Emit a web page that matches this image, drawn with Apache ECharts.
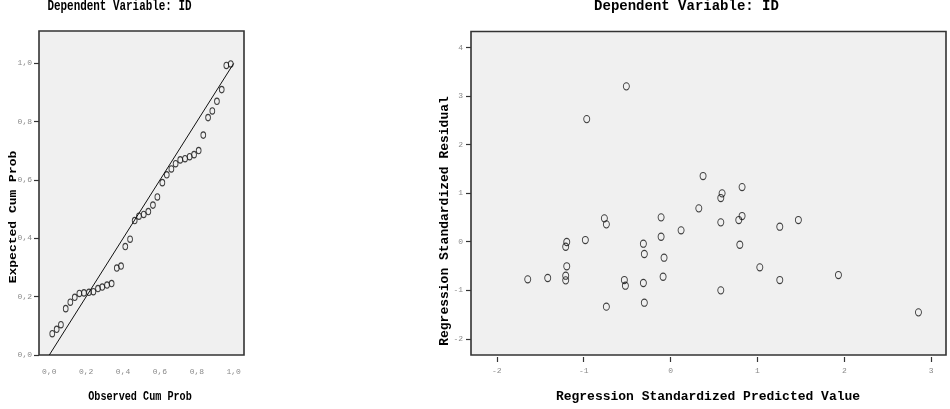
<!DOCTYPE html>
<html>
<head>
<meta charset="utf-8">
<script src="https://cdn.jsdelivr.net/npm/echarts@6/dist/echarts.min.js"></script>
<style>html,body{margin:0;padding:0;background:#fff}#c{width:950px;height:409px}</style>
</head>
<body>
<div id="c"></div>
<script>
// P-P plot data (observed vs expected cumulative probability)
const ppObserved = [0.016,0.040,0.063,0.089,0.114,0.138,0.163,0.188,0.215,0.239,0.264,0.287,0.313,0.338,0.366,0.389,0.412,0.438,0.463,0.486,0.512,0.537,0.562,0.586,0.613,0.637,0.662,0.685,0.710,0.736,0.761,0.785,0.810,0.835,0.861,0.884,0.909,0.935,0.960,0.984];
const ppExpected = [0.073,0.088,0.104,0.159,0.181,0.198,0.211,0.213,0.215,0.217,0.228,0.233,0.240,0.245,0.298,0.305,0.372,0.397,0.461,0.476,0.482,0.492,0.514,0.542,0.591,0.618,0.638,0.656,0.669,0.673,0.680,0.687,0.701,0.754,0.814,0.837,0.870,0.910,0.993,0.998];
const refLineX = [0, 1];
const refLineY = [0, 1];
// Scatter data (standardized predicted vs standardized residual)
const predicted = [-1.644,-1.414,-1.207,-1.207,-1.195,-1.207,-1.195,-0.981,-0.762,-0.739,-0.739,-0.532,-0.520,-0.313,-0.302,-0.313,-0.302,-0.109,-0.109,-0.075,-0.086,0.121,0.325,0.578,0.578,0.578,0.374,0.593,0.823,0.785,0.823,0.797,1.257,1.471,1.027,1.257,1.932,2.853,-0.509,-0.965];
const residual = [-0.774,-0.747,-0.795,-0.700,-0.506,-0.103,-0.006,0.035,0.482,0.358,-1.338,-0.789,-0.906,-0.041,-0.253,-0.850,-1.256,0.502,0.103,-0.329,-0.721,0.235,0.688,0.900,0.399,-1.001,1.353,0.996,1.126,0.447,0.529,-0.062,0.309,0.447,-0.527,-0.789,-0.686,-1.454,3.200,2.526];
// Tick labels
const ppTicks = [0, 0.2, 0.4, 0.6, 0.8, 1.0];
const predTicks = [-2, -1, 0, 1, 2, 3];
const residTicks = [-2, -1, 0, 1, 2, 3, 4];

const FONT = '"Liberation Mono", "DejaVu Sans Mono", monospace';
const ppData = ppObserved.map((v, i) => [v, ppExpected[i]]);
const refData = refLineX.map((v, i) => [v, refLineY[i]]);
const scData = predicted.map((v, i) => [v, residual[i]]);
const comma = v => v.toFixed(1).replace('.', ',');

const tickLabel = {color: '#8a8a8a', fontFamily: FONT, fontSize: 8};
const tickStyle = {lineStyle: {color: '#333', width: 1.2}};
const noLine = {show: false, onZero: false};
const txt = (text, size) => ({text: text, fontFamily: FONT, fontWeight: 'bold', fontSize: size, fill: '#000', align: 'center', verticalAlign: 'middle'});

const chart = echarts.init(document.getElementById('c'), null, {renderer: 'canvas'});
chart.setOption({
  animation: false,
  backgroundColor: '#ffffff',
  grid: [
    {left: 39, top: 31, width: 205, height: 324, show: true, backgroundColor: '#f0f0f0', borderColor: '#333', borderWidth: 1.6},
    {left: 471, top: 31.5, width: 475, height: 323.5, show: true, backgroundColor: '#f0f0f0', borderColor: '#333', borderWidth: 1.6}
  ],
  xAxis: [
    {gridIndex: 0, type: 'value', min: -0.0559, max: 1.0558, position: 'bottom',
     axisLine: noLine, splitLine: {show: false},
     axisTick: {show: false},
     axisLabel: Object.assign({customValues: ppTicks, formatter: comma, margin: 13}, tickLabel)},
    {gridIndex: 1, type: 'value', min: -2.297, max: 3.17, offset: 2, position: 'bottom',
     axisLine: noLine, splitLine: {show: false},
     axisTick: Object.assign({show: true, customValues: predTicks, length: 5, inside: false}, tickStyle),
     axisLabel: Object.assign({customValues: predTicks, formatter: v => String(v), margin: 10}, tickLabel)}
  ],
  yAxis: [
    {gridIndex: 0, type: 'value', min: 0, max: 1.111, position: 'left',
     axisLine: noLine, splitLine: {show: false},
     axisTick: Object.assign({show: true, customValues: ppTicks, length: 5}, tickStyle),
     axisLabel: Object.assign({customValues: ppTicks, formatter: comma, margin: 7}, tickLabel)},
    {gridIndex: 1, type: 'value', min: -2.333, max: 4.33, position: 'left',
     axisLine: noLine, splitLine: {show: false},
     axisTick: Object.assign({show: true, customValues: residTicks, length: 5}, tickStyle),
     axisLabel: Object.assign({customValues: residTicks, formatter: v => String(v), margin: 8}, tickLabel)}
  ],
  series: [
    {type: 'line', xAxisIndex: 0, yAxisIndex: 0, data: refData, symbol: 'none',
     lineStyle: {color: '#111', width: 1}, silent: true},
    {type: 'scatter', xAxisIndex: 0, yAxisIndex: 0, data: ppData, symbol: 'circle', symbolSize: [4.8, 6.4],
     itemStyle: {color: 'rgba(0,0,0,0)', borderColor: '#111', borderWidth: 1}},
    {type: 'scatter', xAxisIndex: 1, yAxisIndex: 1, data: scData, symbol: 'circle', symbolSize: [6, 7.2],
     itemStyle: {color: 'rgba(0,0,0,0)', borderColor: '#111', borderWidth: 1}}
  ],
  graphic: [
    {type: 'text', x: 119.5, y: 6.5, scaleX: 0.78, style: txt('Dependent Variable: ID', 14)},
    {type: 'text', x: 140, y: 397, scaleX: 0.78, style: txt('Observed Cum Prob', 13)},
    {type: 'text', x: 13.5, y: 217, rotation: Math.PI / 2, scaleY: 0.78, style: txt('Expected Cum Prob', 13)},
    {type: 'text', x: 686.5, y: 6.5, style: txt('Dependent Variable: ID', 14)},
    {type: 'text', x: 708, y: 397, style: txt('Regression Standardized Predicted Value', 13)},
    {type: 'text', x: 445, y: 221, rotation: Math.PI / 2, style: txt('Regression Standardized Residual', 13)}
  ]
});
</script>
</body>
</html>
